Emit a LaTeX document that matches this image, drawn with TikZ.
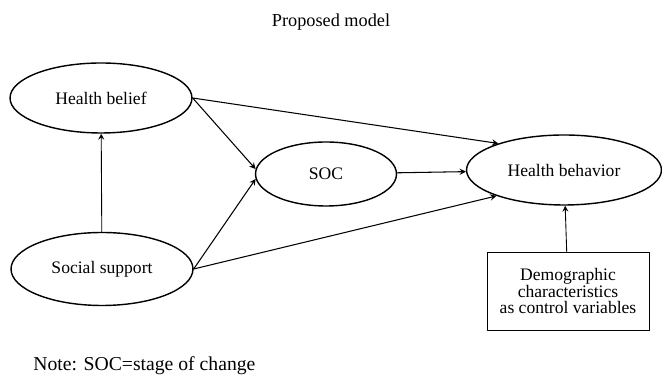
\documentclass[tikz,border=0pt]{standalone}
\usepackage{fontspec}
\setmainfont{Liberation Serif}
\tikzset{
	construct/.style={draw,ellipse,line width=0.8pt,inner sep=0pt},
	ctrlbox/.style={draw,rectangle,line width=0.5pt,align=center,inner sep=0pt},
}
\usetikzlibrary{shapes.geometric}
\begin{document}
\begin{tikzpicture}[
	x=0.02cm,
	y=-0.02cm,
	>=stealth,
	line width=0.6pt,
	line cap=round,
	line join=round,
	font=\fontsize{10}{11}\selectfont
	]
	\useasboundingbox (0,0) rectangle (662,377);
	\node[font=\fontsize{10.4}{12}\selectfont] (title) at (331,22) {Proposed model};
	\node[construct,minimum width=3.64cm,minimum height=1.4cm] (belief) at (101,98) {Health belief};
	\node[construct,minimum width=3.64cm,minimum height=1.46cm] (support) at (102,269) {Social support};
	\node[construct,minimum width=2.82cm,minimum height=1.28cm] (soc) at (326,174) {SOC};
	\node[construct,minimum width=3.9cm,minimum height=1.4cm] (behavior) at (564,170) {Health behavior};
	\node[ctrlbox,minimum width=3.24cm,minimum height=1.56cm,font=\fontsize{10}{9.6}\selectfont] (demo) at (568,291) {Demographic\\characteristics\\as control variables};
	\node[anchor=west,font=\fontsize{11.2}{12}\selectfont] (note) at (27,366) {Note: SOC=stage of change};
	\begin{scope}[->]
		\draw[line width=0.5pt] (support) -- (belief);
		\draw (belief.east) -- (behavior.158);
		\draw (belief.east) -- (soc.176);
		\draw (support.east) -- (soc.184);
		\draw (support.east) -- (behavior.201);
		\draw (soc) -- (behavior);
		\draw[line width=0.5pt] (demo) -- (behavior);
	\end{scope}
\end{tikzpicture}
\end{document}
